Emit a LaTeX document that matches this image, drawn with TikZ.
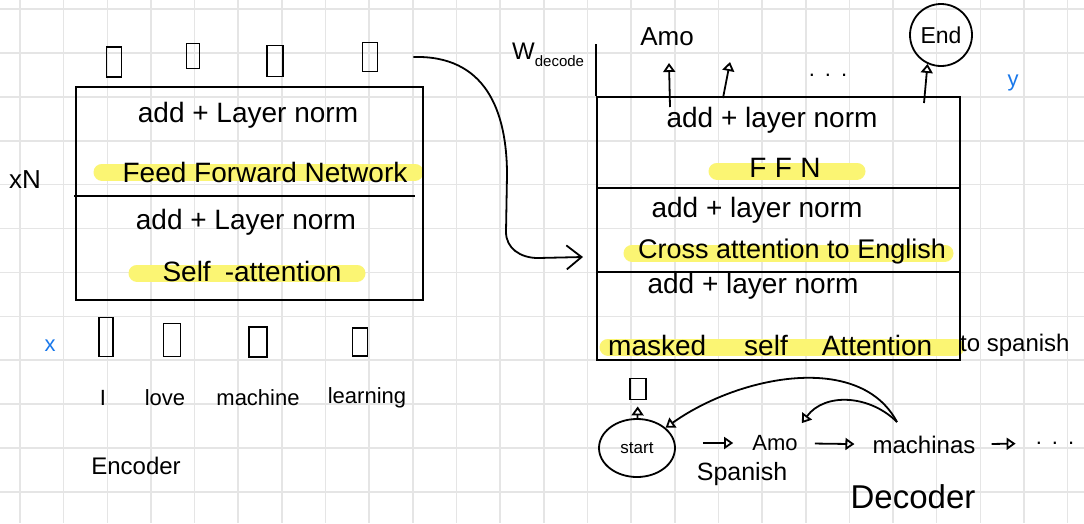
\documentclass[tikz,border=0pt]{standalone}
\usepackage{fontspec}
\setmainfont{Liberation Sans}
\usetikzlibrary{arrows.meta,shapes.geometric}
\definecolor{gridgray}{RGB}{229,229,229}
\definecolor{hlyellow}{RGB}{251,245,115}
\definecolor{inkblue}{RGB}{25,120,235}
\begin{document}
\begin{tikzpicture}[x=1pt,y=-1pt,
  gridline/.style={draw=gridgray,line width=1.6pt},
  box/.style={draw,line width=2pt,inner sep=0pt},
  rule/.style={line width=2pt},
  vec/.style={draw,rectangle,line width=1.8pt,inner sep=0pt},
  hl/.style={draw=hlyellow,line width=17pt,line cap=round},
  txt/.style={inner sep=0pt,font=\fontsize{28}{30}\selectfont},
  mid/.style={inner sep=0pt,font=\fontsize{24}{26}\selectfont},
  word/.style={inner sep=0pt,font=\fontsize{22}{24}\selectfont},
  conn/.style={line width=1.8pt,-{Triangle[open,length=9pt,width=12pt]}},
  bigarrow/.style={line width=1.8pt,-{Straight Barb[length=15pt,width=24pt,line width=1.8pt]}}
]
\useasboundingbox (0,0) rectangle (1084,523);
\fill[white] (0,0) rectangle (1084,523);

% squared paper
\foreach \k in {0,...,24} \draw[gridline] ({20+43.65*\k},0) -- ({20+43.65*\k},523);
\foreach \k in {0,...,11} \draw[gridline] (0,{9+43.9*\k}) -- (1084,{9+43.9*\k});

% highlighter strokes
\draw[hl] (102,172) -- (415,172);
\draw[hl] (137,273) -- (357,273);
\draw[hl] (717,171) -- (857,171);
\draw[hl] (632,253) -- (945,253);
\draw[hl] (608,347) -- (956,347);

% ---------------- encoder ----------------
\node[box,minimum width=347pt,minimum height=213pt] (enc) at (249.5,193.5) {};
\draw[rule] (74,196) -- (415,196);

\node[txt] (eaddtop) at (248,115) {add + Layer norm};
\node[txt] (effn) at (265,172) {Feed Forward Network};
\node[txt] (eaddlow) at (246,222) {add + Layer norm};
\node[txt] (eself) at (252,271) {Self\hspace{14pt}-attention};

\node[vec,minimum width=15pt,minimum height=30pt] (eo1) at (114,62) {};
\node[vec,minimum width=13pt,minimum height=25pt] (eo2) at (193,56) {};
\node[vec,minimum width=16pt,minimum height=31pt] (eo3) at (275,61) {};
\node[vec,minimum width=15pt,minimum height=29pt] (eo4) at (370,57) {};

\node[vec,minimum width=14pt,minimum height=39pt] (ei1) at (106,337) {};
\node[vec,minimum width=17pt,minimum height=33pt] (ei2) at (172,340) {};
\node[vec,minimum width=18pt,minimum height=30pt] (ei3) at (258,342) {};
\node[vec,minimum width=15pt,minimum height=28pt] (ei4) at (360,342) {};

\node[word] (w1) at (103,398) {I};
\node[word] (w2) at (165,398) {love};
\node[word] (w3) at (258,398) {machine};
\node[word] (w4) at (367,398) {learning};

\node[inner sep=0pt,font=\fontsize{26}{28}\selectfont] (xn) at (25,180) {xN};
\node[inner sep=0pt,font=\fontsize{22}{24}\selectfont,text=inkblue] (xin) at (50,346) {x};
\node[mid] (enclabel) at (136,466) {Encoder};

% ---------------- decoder ----------------
\node[box,minimum width=363pt,minimum height=263pt] (dec) at (778.5,228.5) {};
\draw[rule] (dec.north west) -- ++(0,-52);
\draw[rule] (dec.west |- 0,188) -- (dec.east |- 0,188);
\draw[rule] (dec.west |- 0,272) -- (dec.east |- 0,272);

\node[txt] (daddtop) at (772,120) {add + layer norm};
\node[txt] (dffn) at (785,168) {\addfontfeature{LetterSpace=30}FFN};
\node[txt] (daddmid) at (757,210) {add + layer norm};
\node[inner sep=0pt,font=\fontsize{27}{30}\selectfont] (dcross) at (792,252) {Cross attention to English};
\node[txt] (daddlow) at (753,286) {add + layer norm};
\node[txt,anchor=west] (dmasked) at (608,345) {masked\hspace{38pt}self\hspace{34pt}Attention};
\node[mid,anchor=west] (dspan) at (960,345) {to spanish};

\node[inner sep=0pt,font=\fontsize{24}{26}\selectfont,anchor=west] (wdec) at (512,55)
  {W\raisebox{-7pt}{\fontsize{15}{16}\selectfont decode}};
\node[inner sep=0pt,font=\fontsize{26}{28}\selectfont] (amotop) at (667,37) {Amo};
\node[draw,circle,line width=1.8pt,minimum size=62pt,inner sep=0pt,font=\fontsize{23}{24}\selectfont] (end) at (941,35) {End};
\node[inner sep=0pt,font=\fontsize{22}{24}\selectfont] (dotstop) at (828,75) {.\hspace{10pt}.\hspace{10pt}.};
\node[inner sep=0pt,font=\fontsize{22}{24}\selectfont,text=inkblue] (yout) at (1013,83) {y};

\coordinate (o1) at (670,107);
\coordinate (o1e) at (669,63);
\coordinate (o2) at (723,98);
\coordinate (o2e) at (730,62);
\coordinate (o3) at (924,103);
\draw[conn] (o1) -- (o1e);
\draw[conn] (o2) -- (o2e);
\draw[conn] (o3) -- (end.-115);

% encoder output into cross attention
\coordinate (encout) at ([xshift=35pt]eo4.east);
\draw[bigarrow] (encout) .. controls (485,55) and (507,110) .. (507,175)
  -- (506,232) .. controls (506,248) and (520,258) .. (538,258)
  -- ([xshift=-13pt]dec.west |- 0,257);

% decoding loop
\node[vec,minimum width=16pt,minimum height=21pt] (dv) at (638,389) {};
\node[draw,ellipse,line width=1.8pt,minimum width=76pt,minimum height=58pt,inner sep=0pt,
  font=\fontsize{17}{19}\selectfont] (start) at (637,448) {start};
\node[word] (amo) at (775,443) {Amo};
\node[inner sep=0pt,font=\fontsize{25}{27}\selectfont] (span) at (742,474) {Spanish};
\node[mid] (mach) at (924,445) {machinas};
\node[inner sep=0pt,font=\fontsize{22}{24}\selectfont] (dotsend) at (1055,443) {.\hspace{10pt}.\hspace{10pt}.};
\node[inner sep=0pt,font=\fontsize{33}{36}\selectfont] (declabel) at (913,497) {Decoder};

\draw[conn,shorten >=6pt] (start) -- (dv);
\draw[conn,shorten <=27pt,shorten >=19pt] (start.east |- amo.center) -- (amo);
\draw[conn,shorten <=17pt,shorten >=18pt] (amo) -- (mach);
\draw[conn,shorten <=16pt,shorten >=20pt] (mach) -- (dotsend);

\coordinate (fb) at (897,422);
\draw[conn] (fb) .. controls (860,352) and (740,375) .. (start);
\draw[conn] (fb) .. controls (870,395) and (825,392) .. ([shift={(4,-12)}]amo.north east);
\end{tikzpicture}
\end{document}
